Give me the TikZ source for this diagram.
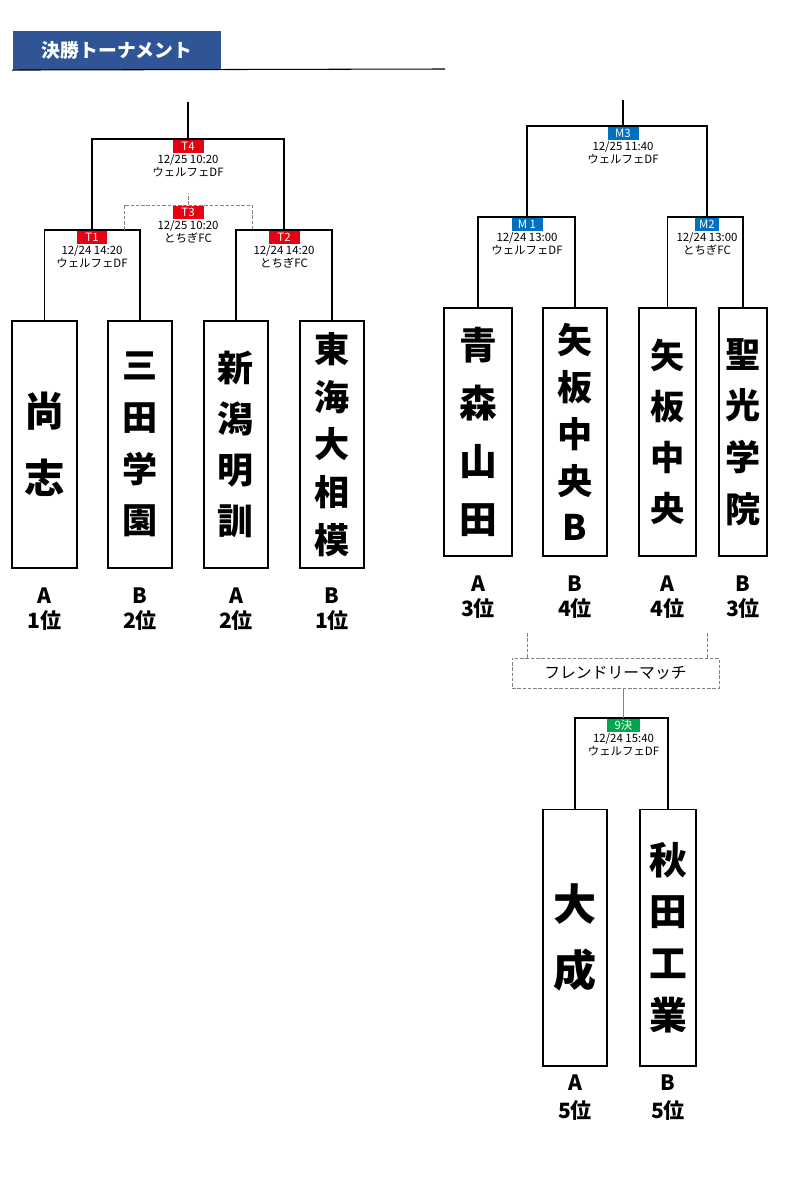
\documentclass[tikz,border=0pt]{standalone}
\usepackage{fontspec}
\setmainfont{Noto Sans CJK JP}
\usetikzlibrary{positioning}
\definecolor{hdrblue}{HTML}{2F5597}
\definecolor{tred}{HTML}{E60012}
\definecolor{mblue}{HTML}{0070C0}
\definecolor{kgreen}{HTML}{00A650}
\tikzset{
 team/.style 2 args={draw, line width=0.6pt, align=center, inner sep=0pt,
  font=\bfseries\fontsize{#1}{#2}\selectfont},
 rank/.style={align=center, inner sep=0pt, font=\bfseries\fontsize{12}{14.2}\selectfont},
 matchtag/.style={fill=#1, text=white, anchor=north, inner sep=0pt,
  minimum width=0.62cm, minimum height=0.26cm, font=\fontsize{6.5}{7}\selectfont},
 info/.style={align=center, inner sep=0.5pt, font=\fontsize{6.5}{6.3}\selectfont},
 grayline/.style={draw=gray, dash pattern=on 2pt off 1pt, line width=0.5pt}
}

\begin{document}
\begin{tikzpicture}[x=0.02cm, y=-0.02cm, line width=0.6pt]
 \useasboundingbox (0,0) rectangle (804,1189);

 % title bar
 \node [fill=hdrblue, text=white, anchor=north west, inner sep=0pt, minimum width=4.18cm,
  minimum height=0.78cm, font=\bfseries\fontsize{10.7}{12}\selectfont] (title) at (12,30) {決勝トーナメント};
 \coordinate (rulend) at (445,69);
 \draw (title.south west) -- (rulend);

 % left bracket
 \node [team={23}{38}, minimum width=1.3cm, minimum height=4.94cm] (shoshi) at (44.5,444.5) {尚\\志};
 \node [team={20}{29.5}, minimum width=1.28cm, minimum height=4.94cm] (mita) at (140,444.5) {三\\田\\学\\園};
 \node [team={20.5}{29}, minimum width=1.28cm, minimum height=4.94cm] (niigata) at (236,444.5) {新\\潟\\明\\訓};
 \node [team={20}{27.2}, minimum width=1.28cm, minimum height=4.94cm] (tokai) at (332,444.5) {東\\海\\大\\相\\模};
 \node [rank, below=0.38cm of shoshi] (rshoshi) {A\\1位};
 \node [rank, below=0.38cm of mita] (rmita) {B\\2位};
 \node [rank, below=0.38cm of niigata] (rniigata) {A\\2位};
 \node [rank, below=0.38cm of tokai] (rtokai) {B\\1位};

 \node [matchtag=tred] (t1) at (92,230) {T1};
 \node [info, below=0pt of t1] (t1info) {12/24 14:20\\ウェルフェDF};
 \node [matchtag=tred] (t2) at (284,230) {T2};
 \node [info, below=0pt of t2] (t2info) {12/24 14:20\\とちぎFC};
 \node [matchtag=tred] (t4) at (188,139) {T4};
 \node [info, below=0pt of t4] (t4info) {12/25 10:20\\ウェルフェDF};
 \node [matchtag=tred] (t3) at (188,205) {T3};
 \node [info, below=0pt of t3] (t3info) {12/25 10:20\\とちぎFC};
 \coordinate (t4top) at (188,102);
 \coordinate (t3top) at (188,193);
 \coordinate (t3l) at (124,230);
 \coordinate (t3r) at (252,230);

 \draw (shoshi.north) |- (t1.north) -| (mita.north);
 \draw (niigata.north) |- (t2.north) -| (tokai.north);
 \draw (t1.north) |- (t4.north) -| (t2.north);
 \draw (t4.north) -- (t4top);
 \draw [grayline] (t3l) |- (t3.north) -| (t3r);
 \draw [grayline] (t3.north) -- (t3top);

 % right bracket
 \node [team={21.5}{33}, minimum width=1.36cm, minimum height=4.96cm] (aomori) at (478,432) {青\\森\\山\\田};
 \node [team={20}{26.7}, minimum width=1.28cm, minimum height=4.96cm] (yaitab) at (575,432) {矢\\板\\中\\央\\B};
 \node [team={19.5}{29}, minimum width=1.14cm, minimum height=4.96cm] (yaita) at (667.5,432) {矢\\板\\中\\央};
 \node [team={20}{29.5}, minimum width=0.96cm, minimum height=4.96cm] (seiko) at (743,432) {聖\\光\\学\\院};
 \node [rank, below=0.38cm of aomori] (raomori) {A\\3位};
 \node [rank, below=0.38cm of yaitab] (ryaitab) {B\\4位};
 \node [rank, below=0.38cm of yaita] (ryaita) {A\\4位};
 \node [rank, below=0.38cm of seiko] (rseiko) {B\\3位};

 \node [matchtag=mblue] (m1) at (527,217) {M 1};
 \node [info, below=0pt of m1] (m1info) {12/24 13:00\\ウェルフェDF};
 \node [matchtag=mblue, minimum width=0.48cm] (m2) at (707,217) {M2};
 \node [info, below=0pt of m2] (m2info) {12/24 13:00\\とちぎFC};
 \node [matchtag=mblue] (m3) at (623,126) {M3};
 \node [info, below=0pt of m3] (m3info) {12/25 11:40\\ウェルフェDF};
 \coordinate (m3top) at (623,100);

 \draw (aomori.north) |- (m1.north) -| (yaitab.north);
 \draw (yaita.north) |- (m2.north) -| (seiko.north);
 \draw (m1.north) |- (m3.north) -| (m2.north);
 \draw (m3.north) -- (m3top);

 % friendly match
 \node [draw=gray, dash pattern=on 2pt off 1pt, line width=0.5pt, inner sep=0pt, minimum width=4.14cm,
  minimum height=0.6cm, font=\fontsize{9}{10}\selectfont] (friendly) at (615.5,673) {フレンドリーマッチ};
 \coordinate (fl) at (527,633);
 \coordinate (fr) at (707,633);
 \draw [grayline] (fl) -- (fl |- friendly.north);
 \draw [grayline] (fr) -- (fr |- friendly.north);

 \node [team={24.5}{38}, minimum width=1.28cm, minimum height=5.14cm] (taisei) at (575,937.5) {大\\成};
 \node [team={21.5}{29.5}, minimum width=1.12cm, minimum height=5.14cm] (akita) at (668,937.5) {秋\\田\\工\\業};
 \node [rank, below=0.16cm of taisei, font=\bfseries\fontsize{12}{16}\selectfont] (rtaisei) {A\\5位};
 \node [rank, below=0.16cm of akita, font=\bfseries\fontsize{12}{16}\selectfont] (rakita) {B\\5位};

 \node [matchtag=kgreen, minimum width=0.66cm] (k9) at (623.5,718) {9決};
 \node [info, below=0pt of k9] (k9info) {12/24 15:40\\ウェルフェDF};

 \draw (taisei.north) |- (k9.north) -| (akita.north);
 \draw [draw=gray, line width=0.5pt] (friendly.south -| k9.north) -- (k9.north);
\end{tikzpicture}
\end{document}
